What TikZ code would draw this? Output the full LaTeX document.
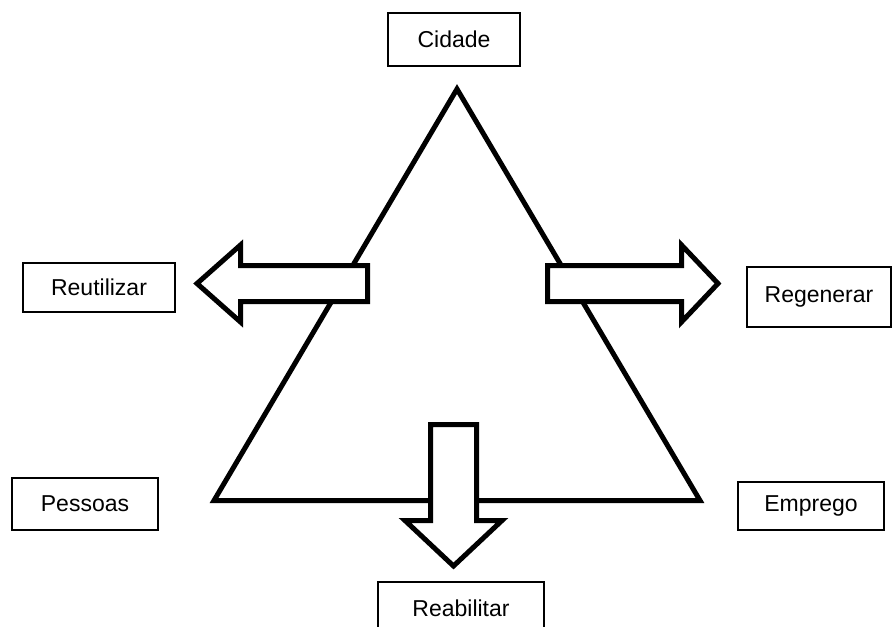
\documentclass[tikz,border=0pt]{standalone}
\usepackage{fontspec}
\setmainfont{Liberation Sans}
\begin{document}
\begin{tikzpicture}[x=0.75pt, y=-0.75pt,
        box/.style={draw, line width=0.8pt, inner sep=0pt, font=\fontsize{17.25}{20}\selectfont},
        block/.style={draw, fill=white, line width=3.75pt, line join=miter}]
        \clip (0,0) rectangle (893,626);

        % Triangle
        \draw[line width=3.75pt, line join=miter] (457,89) -- (214,500.5) -- (700,500.5) -- cycle;

        % Block arrows
        \draw[block] (367.5,265.5) -- (240.5,265.5) -- (240.5,245) -- (197,283.5) -- (240.5,322) -- (240.5,301.5) -- (367.5,301.5) -- cycle;
        \draw[block] (547.5,265.5) -- (681.5,265.5) -- (681.5,245) -- (718,283.5) -- (681.5,322) -- (681.5,301.5) -- (547.5,301.5) -- cycle;
        \draw[block] (430.5,424.5) -- (430.5,520.5) -- (405,520.5) -- (453.5,566) -- (502,520.5) -- (476.5,520.5) -- (476.5,424.5) -- cycle;

        % Labels
        \node[box, minimum width=99pt, minimum height=39.75pt] (cidade) at (454,39.5) {Cidade};
        \node[box, minimum width=114pt, minimum height=36.75pt] (reutilizar) at (99,287.5) {Reutilizar};
        \node[box, minimum width=108pt, minimum height=45pt] (regenerar) at (819,297) {Regenerar};
        \node[box, minimum width=109.5pt, minimum height=39pt] (pessoas) at (85,504) {Pessoas};
        \node[box, minimum width=109.5pt, minimum height=36pt] (emprego) at (811,506) {Emprego};
        \node[box, minimum width=124.5pt, minimum height=39.75pt] (reabilitar) at (461,608.5) {Reabilitar};
    \end{tikzpicture}
\end{document}
